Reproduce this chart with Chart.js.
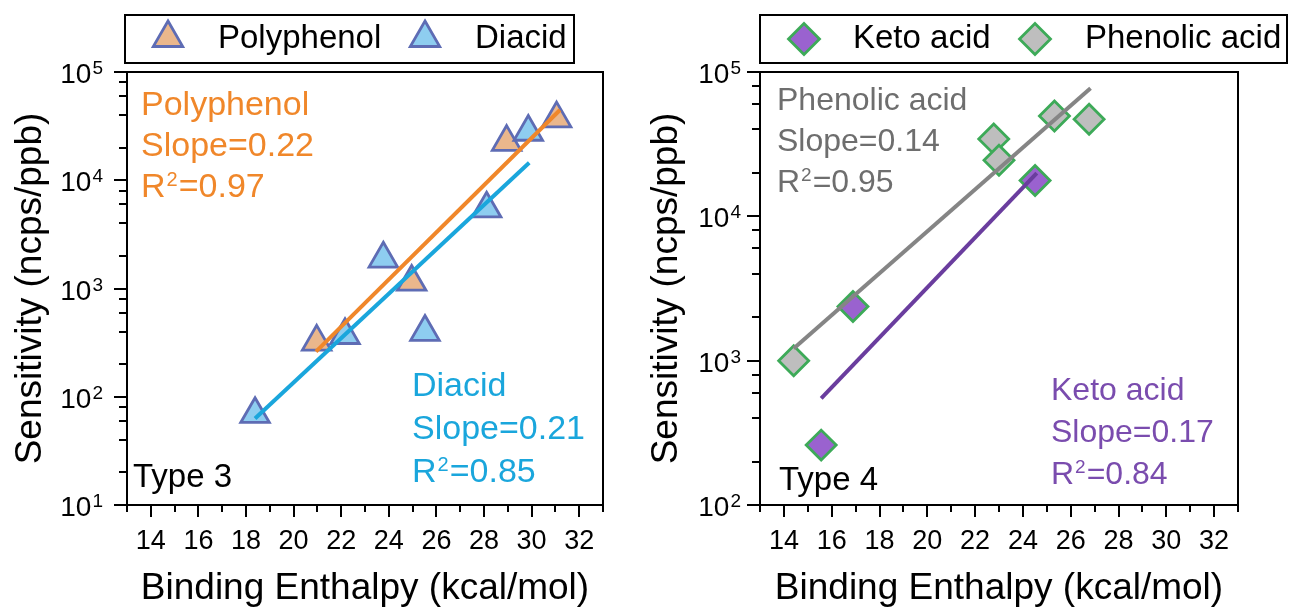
<!DOCTYPE html>
<html>
<head>
<meta charset="utf-8">
<script src="https://cdn.jsdelivr.net/npm/chart.js@4/dist/chart.umd.min.js"></script>
<style>
  body { margin: 0; background: #fff; }
  #wrap { position: relative; width: 1294px; height: 608px; }
  canvas { position: absolute; top: 0; }
</style>
</head>
<body>
<div id="wrap">
  <canvas id="type3" width="647" height="608" style="left:0"></canvas>
  <canvas id="type4" width="647" height="608" style="left:647px"></canvas>
</div>
<script>
// ---- Type 3 panel (triangles) ----
const polyX = [20.97, 24.96, 28.95, 31.05];
const polyY = [321, 1150, 22500, 37100];
const diacidX = [18.38, 22.16, 23.77, 25.52, 28.11, 29.86];
const diacidY = [69, 370, 1880, 396, 5460, 27900];
// fitted lines, end points
const polyFitX = [20.94, 31.19];
const polyFitY = [261, 44600];
const diacidFitX = [18.38, 29.9];
const diacidFitY = [63, 14500];

// ---- Type 4 panel (diamonds) ----
const ketoX = [15.56, 16.89, 24.51];
const ketoY = [260, 2370, 17700];
const phenX = [14.41, 22.78, 23.0, 25.32, 26.77];
const phenY = [1000, 34400, 24500, 49500, 47000];
const ketoFitX = [15.56, 24.58];
const ketoFitY = [548, 19900];
const phenFitX = [14.41, 26.83];
const phenFitY = [1216, 77100];

// ---- axes ----
const xMajor = [14, 16, 18, 20, 22, 24, 26, 28, 30, 32];
const xMinor = [13, 15, 17, 19, 21, 23, 25, 27, 29, 31, 33];
const xLabels = ['14', '16', '18', '20', '22', '24', '26', '28', '30', '32'];
const yMajor3 = [10, 100, 1000, 10000, 100000];
const yExp3 = ['1', '2', '3', '4', '5'];
const yMajor4 = [100, 1000, 10000, 100000];
const yExp4 = ['2', '3', '4', '5'];
const minorSteps = [2, 4, 6, 8];

const FONT = '"Liberation Sans", Arial, sans-serif';
Chart.defaults.font.family = FONT;
Chart.defaults.color = '#000';

function pts(xs, ys) {
    return xs.map((x, i) => ({ x: x, y: ys[i] }));
}

function minorTicks(majors) {
    const out = [];
    for (let i = 0; i < majors.length - 1; i++) {
        minorSteps.forEach(m => out.push(majors[i] * m));
    }
    return out;
}

function scatterSet(label, xs, ys, style, fill, edge, radius, order) {
    return {
        label: label,
        data: pts(xs, ys),
        pointStyle: style,
        pointRadius: radius,
        pointHoverRadius: radius,
        pointBackgroundColor: fill,
        pointBorderColor: edge,
        pointBorderWidth: 2.8,
        showLine: false,
        order: order
    };
}

function fitSet(xs, ys, color, order) {
    return {
        data: pts(xs, ys),
        showLine: true,
        borderColor: color,
        borderWidth: 4,
        pointRadius: 0,
        order: order
    };
}

function drawMarker(ctx, style, x, y, r) {
    if (Chart.helpers && Chart.helpers.drawPoint) {
        Chart.helpers.drawPoint(ctx, { pointStyle: style, radius: r, rotation: 0, borderWidth: ctx.lineWidth }, x, y);
        return;
    }
    ctx.beginPath();
    if (style === 'triangle') {
        ctx.moveTo(x, y - r);
        ctx.lineTo(x + r * 0.866, y + r / 2);
        ctx.lineTo(x - r * 0.866, y + r / 2);
    } else {
        ctx.moveTo(x - r, y); ctx.lineTo(x, y - r); ctx.lineTo(x + r, y); ctx.lineTo(x, y + r);
    }
    ctx.closePath();
    ctx.fill();
    ctx.stroke();
}

// text with one superscript, written as 'R^2=0.97'
function drawSupText(ctx, text, x, y, size) {
    const m = text.match(/^(.*)\^(\d)(.*)$/);
    ctx.textAlign = 'left';
    ctx.textBaseline = 'alphabetic';
    ctx.font = size + 'px ' + FONT;
    if (!m) { ctx.fillText(text, x, y); return; }
    ctx.fillText(m[1], x, y);
    let cx = x + ctx.measureText(m[1]).width + 1;
    ctx.font = Math.round(size * 0.6) + 'px ' + FONT;
    ctx.fillText(m[2], cx, y - size * 0.33);
    cx += ctx.measureText(m[2]).width + 1;
    ctx.font = size + 'px ' + FONT;
    ctx.fillText(m[3], cx, y);
}

// frame, minor ticks, power-of-ten labels, boxed legend and the fit notes
function panelPlugin(p) {
    return {
        id: 'panel_' + p.id,
        afterDraw(chart) {
            const ctx = chart.ctx, a = chart.chartArea;
            const xs = chart.scales.x, ys = chart.scales.y;
            ctx.save();
            ctx.strokeStyle = '#000';
            ctx.lineWidth = 2;
            ctx.strokeRect(a.left, a.top, a.right - a.left, a.bottom - a.top);
            ctx.beginPath();
            xMinor.forEach(v => {
                const px = Math.round(xs.getPixelForValue(v));
                ctx.moveTo(px, a.bottom); ctx.lineTo(px, a.bottom + 7);
            });
            minorTicks(p.yMajor).forEach(v => {
                const py = Math.round(ys.getPixelForValue(v));
                ctx.moveTo(a.left - 8, py); ctx.lineTo(a.left, py);
            });
            ctx.stroke();

            // y labels 10^n
            ctx.fillStyle = '#000';
            ctx.textBaseline = 'alphabetic';
            p.yMajor.forEach((v, i) => {
                const py = ys.getPixelForValue(v);
                const right = a.left - 13 - p.yPad;
                ctx.font = '19px ' + FONT;
                const ew = ctx.measureText(p.yExp[i]).width;
                ctx.textAlign = 'right';
                ctx.fillText(p.yExp[i], right, py + 2);
                ctx.font = '28px ' + FONT;
                ctx.fillText('10', right - ew - 1, py + 11);
            });

            // legend
            const L = p.legend;
            ctx.strokeStyle = '#000';
            ctx.lineWidth = 2;
            ctx.strokeRect(L.left, L.top, L.right - L.left, L.bottom - L.top);
            L.items.forEach(it => {
                ctx.fillStyle = it.fill;
                ctx.strokeStyle = it.edge;
                ctx.lineWidth = 2.8;
                drawMarker(ctx, it.style, it.mx, L.markerY, it.r);
                ctx.fillStyle = '#000';
                drawSupText(ctx, it.label, it.tx, L.textY, 33);
            });

            // notes
            p.notes.forEach(n => {
                ctx.fillStyle = n.color;
                n.lines.forEach((t, i) => drawSupText(ctx, t, n.x, n.y + i * n.step, n.size));
            });
            ctx.restore();
        }
    };
}

function makePanel(p) {
    return new Chart(document.getElementById(p.id), {
        type: 'scatter',
        data: { datasets: p.datasets },
        options: {
            responsive: false,
            animation: false,
            events: [],
            layout: { padding: { top: 72, right: p.padRight, left: 0, bottom: 0 } },
            plugins: { legend: { display: false }, tooltip: { enabled: false } },
            scales: {
                x: {
                    type: 'linear',
                    min: 13,
                    max: 33,
                    afterBuildTicks: s => { s.ticks = xMajor.map(v => ({ value: v })); },
                    afterFit: s => { s.height = 103; },
                    ticks: {
                        autoSkip: false,
                        maxRotation: 0,
                        padding: 8,
                        font: { size: 27 },
                        color: '#000',
                        callback: v => xLabels[xMajor.indexOf(v)]
                    },
                    grid: { drawOnChartArea: false, drawTicks: true, tickLength: 12, tickWidth: 2, tickColor: '#000', color: '#000', lineWidth: 2 },
                    border: { display: true, color: '#000', width: 2 },
                    title: {
                        display: true,
                        text: 'Binding Enthalpy (kcal/mol)',
                        font: { size: 37, lineHeight: 1 },
                        color: '#000',
                        padding: { top: 0, bottom: 1 }
                    }
                },
                y: {
                    type: 'logarithmic',
                    min: p.yMajor[0],
                    max: p.yMajor[p.yMajor.length - 1],
                    afterBuildTicks: s => { s.ticks = p.yMajor.map(v => ({ value: v })); },
                    afterFit: s => { s.width = p.axisLeft; },
                    ticks: { display: false },
                    grid: { drawOnChartArea: false, drawTicks: true, tickLength: 13, tickWidth: 2, tickColor: '#000', color: '#000', lineWidth: 2 },
                    border: { display: true, color: '#000', width: 2 },
                    title: {
                        display: true,
                        text: 'Sensitivity (ncps/ppb)',
                        font: { size: 37, lineHeight: 1 },
                        color: '#000',
                        padding: { top: p.titlePad, bottom: 0 }
                    }
                }
            }
        },
        plugins: [panelPlugin(p)]
    });
}

const ORANGE = '#F0872A', BLUE = '#1AA6DC', TRI_EDGE = '#5E6CB4';
const GRAY_LINE = '#858585', PURPLE_LINE = '#6A3D9E', DIA_EDGE = '#3DAA58';

makePanel({
    id: 'type3',
    axisLeft: 127,
    padRight: 44,
    yPad: 11,
    titlePad: 12,
    yMajor: yMajor3,
    yExp: yExp3,
    datasets: [
        fitSet(polyFitX, polyFitY, ORANGE, 0),
        fitSet(diacidFitX, diacidFitY, BLUE, 1),
        scatterSet('Diacid', diacidX, diacidY, 'triangle', '#8ECDF0', TRI_EDGE, 16.5, 2),
        scatterSet('Polyphenol', polyX, polyY, 'triangle', '#EAB78C', TRI_EDGE, 16.5, 3)
    ],
    legend: {
        left: 125, top: 15, right: 574, bottom: 63, markerY: 38, textY: 48,
        items: [
            { label: 'Polyphenol', style: 'triangle', fill: '#EAB78C', edge: TRI_EDGE, r: 17, mx: 168, tx: 218 },
            { label: 'Diacid', style: 'triangle', fill: '#8ECDF0', edge: TRI_EDGE, r: 17, mx: 425, tx: 475 }
        ]
    },
    notes: [
        { lines: ['Polyphenol', 'Slope=0.22', 'R^2=0.97'], color: ORANGE, size: 34, x: 141, y: 115, step: 41 },
        { lines: ['Diacid', 'Slope=0.21', 'R^2=0.85'], color: BLUE, size: 34, x: 412, y: 396, step: 43 },
        { lines: ['Type 3'], color: '#000', size: 33, x: 133, y: 487, step: 0 }
    ]
});

makePanel({
    id: 'type4',
    axisLeft: 113,
    padRight: 56,
    yPad: 6,
    titlePad: 1,
    yMajor: yMajor4,
    yExp: yExp4,
    datasets: [
        fitSet(phenFitX, phenFitY, GRAY_LINE, 0),
        fitSet(ketoFitX, ketoFitY, PURPLE_LINE, 1),
        scatterSet('Keto acid', ketoX, ketoY, 'rectRot', '#9A62CF', DIA_EDGE, 15, 2),
        scatterSet('Phenolic acid', phenX, phenY, 'rectRot', '#BEBEBE', DIA_EDGE, 15, 3)
    ],
    legend: {
        left: 113, top: 15, right: 640, bottom: 63, markerY: 39, textY: 48,
        items: [
            { label: 'Keto acid', style: 'rectRot', fill: '#9A62CF', edge: DIA_EDGE, r: 15.5, mx: 157, tx: 206 },
            { label: 'Phenolic acid', style: 'rectRot', fill: '#BEBEBE', edge: DIA_EDGE, r: 15.5, mx: 388, tx: 438 }
        ]
    },
    notes: [
        { lines: ['Phenolic acid', 'Slope=0.14', 'R^2=0.95'], color: '#6E6E6E', size: 32, x: 130, y: 110, step: 41 },
        { lines: ['Keto acid', 'Slope=0.17', 'R^2=0.84'], color: '#7A4CAE', size: 32, x: 404, y: 400, step: 42 },
        { lines: ['Type 4'], color: '#000', size: 33, x: 132, y: 490, step: 0 }
    ]
});
</script>
</body>
</html>
